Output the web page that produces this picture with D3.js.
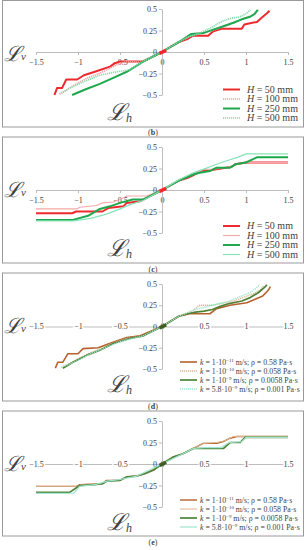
<!DOCTYPE html>
<html>
<head>
<meta charset="utf-8">
<script src="https://cdn.jsdelivr.net/npm/d3@7"></script>
<style>
  body { margin: 0; background: #fff; }
  svg { display: block; }
  text { font-family: "Liberation Serif", "Times New Roman", serif; fill: #404040; }
</style>
</head>
<body>
<svg width="306" height="550"></svg>
<script>
// tick labels
const xTicks = [-1.5, -1, -0.5, 0, 0.5, 1, 1.5];
const yTicks = [-0.5, -0.25, 0, 0.25, 0.5];

// legend values
const hValues = ['50', '100', '250', '500'];
const kMant = ['1', '1', '1', '5.8'];
const kExp = ['\u221211', '\u221210', '\u22129', '\u22129'];
const rhoValues = ['0.58', '0.058', '0.0058', '0.001'];

// (b) [Lh, Lv]
const bH50 = [[-1.28,-0.5],[-1.25,-0.42],[-1.19,-0.42],[-1.14,-0.32],[-1.01,-0.32],[-0.93,-0.27],[-0.8,-0.23],[-0.62,-0.17],[-0.56,-0.13],[-0.5,-0.11],[-0.22,-0.11],[-0.12,-0.06],[0,0],[0.1,0.06],[0.21,0.12],[0.3,0.15],[0.37,0.19],[0.55,0.19],[0.61,0.24],[0.71,0.27],[0.95,0.27],[0.98,0.32],[1.13,0.35],[1.2,0.41],[1.25,0.45],[1.28,0.48]];
const bH100 = [[-1.22,-0.49],[-1.12,-0.43],[-1.0,-0.36],[-0.88,-0.3],[-0.75,-0.25],[-0.62,-0.19],[-0.5,-0.13],[-0.4,-0.11],[-0.22,-0.1],[0,0],[0.21,0.12],[0.35,0.19],[0.5,0.22],[0.6,0.25],[0.75,0.3],[0.9,0.36],[1.0,0.4],[1.1,0.44],[1.15,0.49]];
const bH250 = [[-1.07,-0.5],[-0.9,-0.43],[-0.74,-0.37],[-0.58,-0.3],[-0.42,-0.23],[-0.22,-0.11],[0,0],[0.21,0.12],[0.35,0.21],[0.49,0.22],[0.61,0.26],[0.73,0.3],[0.85,0.34],[0.95,0.38],[1.05,0.41],[1.1,0.44],[1.14,0.49]];
const bH500 = [[-1.2,-0.48],[-1.08,-0.41],[-0.94,-0.35],[-0.74,-0.27],[-0.54,-0.23],[-0.4,-0.21],[-0.22,-0.11],[0,0],[0.2,0.12],[0.3,0.17],[0.45,0.22],[0.6,0.29],[0.7,0.35],[0.81,0.39],[0.93,0.41],[1.01,0.45],[1.05,0.49]];

// (c)
const cH50 = [[-1.5,-0.27],[-1.07,-0.27],[-1.02,-0.25],[-0.71,-0.25],[-0.64,-0.21],[-0.46,-0.19],[-0.42,-0.15],[-0.26,-0.13],[-0.2,-0.1],[0,0],[0.2,0.11],[0.3,0.14],[0.37,0.17],[0.45,0.22],[0.57,0.23],[0.65,0.24],[0.83,0.27],[0.87,0.3],[1.0,0.32],[1.5,0.32]];
const cH100 = [[-1.5,-0.22],[-1.01,-0.22],[-0.98,-0.2],[-0.78,-0.18],[-0.71,-0.15],[-0.58,-0.14],[-0.5,-0.11],[-0.42,-0.07],[-0.18,-0.07],[0,0],[0.2,0.11],[0.37,0.18],[0.5,0.24],[0.6,0.24],[0.8,0.27],[0.9,0.3],[1.0,0.32],[1.5,0.32]];
const cH250 = [[-1.5,-0.35],[-1.07,-0.35],[-0.88,-0.3],[-0.74,-0.22],[-0.62,-0.19],[-0.5,-0.15],[-0.35,-0.11],[-0.22,-0.11],[0,0],[0.2,0.11],[0.3,0.15],[0.37,0.18],[0.45,0.2],[0.57,0.22],[0.65,0.26],[0.81,0.26],[0.88,0.3],[1.0,0.32],[1.13,0.38],[1.5,0.38]];
const cH500 = [[-1.5,-0.36],[-1.05,-0.36],[-0.85,-0.33],[-0.66,-0.28],[-0.5,-0.22],[-0.38,-0.17],[-0.22,-0.12],[0,0],[0.2,0.12],[0.37,0.2],[0.49,0.24],[0.65,0.3],[0.77,0.34],[0.9,0.38],[1.0,0.42],[1.5,0.42]];

// (d)
const dK11 = [[-1.27,-0.49],[-1.24,-0.42],[-1.18,-0.42],[-1.12,-0.32],[-1.0,-0.32],[-0.94,-0.26],[-0.76,-0.25],[-0.6,-0.19],[-0.42,-0.13],[-0.26,-0.11],[0,0],[0.2,0.12],[0.33,0.15],[0.57,0.15],[0.65,0.21],[0.81,0.25],[1.01,0.28],[1.13,0.33],[1.2,0.36],[1.26,0.42],[1.29,0.47]];
const dK10 = [[-1.2,-0.48],[-1.05,-0.41],[-0.9,-0.33],[-0.75,-0.27],[-0.6,-0.2],[-0.42,-0.14],[-0.22,-0.11],[0,0],[0.2,0.12],[0.37,0.19],[0.45,0.25],[0.6,0.25],[0.7,0.27],[0.85,0.3],[0.96,0.34],[1.1,0.39],[1.17,0.43],[1.21,0.48]];
const dK9 = [[-1.18,-0.49],[-1.06,-0.42],[-0.9,-0.34],[-0.74,-0.28],[-0.58,-0.2],[-0.38,-0.14],[-0.22,-0.11],[0,0],[0.2,0.12],[0.3,0.15],[0.4,0.17],[0.5,0.18],[0.6,0.2],[0.7,0.24],[0.8,0.27],[0.95,0.3],[1.05,0.34],[1.15,0.4],[1.22,0.46],[1.25,0.49]];
const dK58 = [[-1.2,-0.48],[-1.0,-0.4],[-0.85,-0.32],[-0.7,-0.26],[-0.5,-0.18],[-0.35,-0.14],[-0.22,-0.11],[0,0],[0.2,0.12],[0.4,0.2],[0.6,0.25],[0.8,0.3],[0.95,0.36],[1.05,0.4],[1.12,0.45],[1.16,0.49]];

// (e)
const eK11 = [[-1.5,-0.26],[-1.01,-0.26],[-0.98,-0.24],[-0.71,-0.23],[-0.66,-0.19],[-0.5,-0.19],[-0.42,-0.15],[-0.3,-0.14],[-0.2,-0.11],[-0.1,-0.07],[0,0],[0.13,0.08],[0.25,0.12],[0.37,0.18],[0.49,0.24],[0.65,0.24],[0.73,0.26],[0.81,0.3],[0.89,0.32],[1.5,0.32]];
const eK10 = [[-1.5,-0.26],[-1.0,-0.26],[-0.97,-0.24],[-0.7,-0.23],[-0.65,-0.2],[-0.5,-0.19],[-0.42,-0.15],[-0.3,-0.14],[-0.2,-0.11],[0,0],[0.25,0.12],[0.37,0.18],[0.49,0.24],[0.65,0.25],[0.75,0.27],[0.85,0.32],[1.5,0.32]];
const eK9 = [[-1.5,-0.33],[-1.1,-0.33],[-1.01,-0.27],[-0.98,-0.25],[-0.8,-0.24],[-0.71,-0.23],[-0.66,-0.2],[-0.5,-0.19],[-0.42,-0.15],[-0.3,-0.14],[-0.2,-0.11],[-0.1,-0.07],[0,0],[0.13,0.08],[0.25,0.12],[0.37,0.18],[0.49,0.18],[0.73,0.18],[0.81,0.25],[0.93,0.25],[0.99,0.31],[1.5,0.31]];
const eK58 = [[-1.5,-0.34],[-1.05,-0.34],[-0.98,-0.26],[-0.8,-0.24],[-0.65,-0.2],[-0.5,-0.18],[-0.3,-0.14],[0,0],[0.25,0.12],[0.37,0.18],[0.5,0.19],[0.7,0.19],[0.8,0.25],[0.95,0.26],[1.0,0.31],[1.5,0.31]];

// short thick stroke at the origin
const originMark = [[-0.03,-0.015],[0.05,0.02]];

const svg = d3.select('svg');
const x = d3.scaleLinear().domain([-1.5, 1.5]).range([36, 288]);

function fmt(v) {
  return String(v).replace('-', '\u2212');
}

const hStyles = [
  { color: '#ee2a2f', w: 2 },
  { color: '#f3a0a4', w: 1.6, dash: '1.2,0.8' },
  { color: '#1ea84e', w: 2 },
  { color: '#7fdcaa', w: 1.6, dash: '1.2,0.8' }
];
const hStylesC = [
  { color: '#ee2a2f', w: 2 },
  { color: '#f6a8aa', w: 1.1 },
  { color: '#1ea84e', w: 2 },
  { color: '#86e2b8', w: 1.2 }
];
const kStyles = [
  { color: '#b5622e', w: 1.6 },
  { color: '#dcb48c', w: 1.4, dash: '1.2,0.8' },
  { color: '#4d843a', w: 1.7 },
  { color: '#9de6cf', w: 1.4, dash: '1.2,0.8' }
];
const kStylesE = [
  { color: '#b5622e', w: 1.4 },
  { color: '#dcb48c', w: 1 },
  { color: '#4d843a', w: 1.7 },
  { color: '#9de6cf', w: 1.2 }
];

const panels = [
  { name: 'b', frame: [0.5, 127], top: 9, bottom: 95, series: [bH50, bH100, bH250, bH500], styles: hStyles, legend: 'H', labelsBelow: true, mark: '#ee2a2f', caption: 135 },
  { name: 'c', frame: [137, 263], top: 147, bottom: 233, series: [cH50, cH100, cH250, cH500], styles: hStylesC, legend: 'H', labelsBelow: true, mark: '#ee2a2f', caption: 272 },
  { name: 'd', frame: [273, 401], top: 284, bottom: 369, series: [dK11, dK10, dK9, dK58], styles: kStyles, legend: 'k', labelsBelow: false, mark: '#3f5f22', caption: 409 },
  { name: 'e', frame: [411, 536], top: 421, bottom: 507, series: [eK11, eK10, eK9, eK58], styles: kStylesE, legend: 'k', labelsBelow: false, mark: '#3f5f22', caption: 545 }
];

function drawPanel(p) {
  const y = d3.scaleLinear().domain([-0.5, 0.5]).range([p.bottom, p.top]);
  const g = svg.append('g');
  const f = p.frame[0];

  g.append('rect')
    .attr('x', 2.5).attr('y', p.frame[0])
    .attr('width', 301).attr('height', p.frame[1] - p.frame[0])
    .attr('fill', 'none').attr('stroke', '#9a9a9a').attr('stroke-width', 1);

  // axes
  const xa = g.append('g')
    .attr('transform', `translate(0,${y(0)})`)
    .call(d3.axisBottom(x).tickValues(xTicks).tickSize(3).tickSizeOuter(0).tickFormat(fmt));
  const ya = g.append('g')
    .attr('transform', `translate(${x(0)},0)`)
    .call(d3.axisLeft(y).tickValues(yTicks).tickSize(3).tickSizeOuter(0).tickFormat(fmt));

  [xa, ya].forEach(a => {
    a.selectAll('path, line').attr('stroke', '#bdbdbd');
    a.selectAll('text').attr('font-size', 8).attr('fill', '#404040')
      .attr('font-family', '"Liberation Serif", serif');
  });
  ya.selectAll('text').attr('x', -5);
  if (p.labelsBelow) {
    xa.selectAll('text').attr('y', 7).attr('dy', '0.71em');
  } else {
    xa.selectAll('text').attr('y', 0).attr('dy', '0.35em')
      .attr('stroke', '#fff').attr('stroke-width', 3).attr('paint-order', 'stroke');
  }

  // curves
  const line = d3.line().x(d => x(d[0])).y(d => y(d[1]));
  p.series.forEach((s, i) => {
    const st = p.styles[i];
    g.append('path')
      .attr('d', line(s))
      .attr('fill', 'none')
      .attr('stroke', st.color)
      .attr('stroke-width', st.w)
      .attr('stroke-dasharray', st.dash || null)
      .attr('stroke-linejoin', 'round');
  });
  g.append('path')
    .attr('d', line(originMark))
    .attr('fill', 'none').attr('stroke', p.mark).attr('stroke-width', 3.5);

  // legend
  const rows = p.legend === 'H' ? [89, 98.5, 108, 117.5] : [89, 98, 107, 116];
  p.styles.forEach((st, i) => {
    const ry = f + rows[i];
    const lx0 = p.legend === 'H' ? 223 : 180;
    g.append('line')
      .attr('x1', lx0).attr('x2', lx0 + 17)
      .attr('y1', ry).attr('y2', ry)
      .attr('stroke', st.color).attr('stroke-width', st.w)
      .attr('stroke-dasharray', st.dash || null);
    if (p.legend === 'H') {
      const t = g.append('text').attr('x', 247).attr('y', ry + 3.4).attr('font-size', 10).attr('fill', '#303030');
      t.append('tspan').attr('font-style', 'italic').text('H');
      t.append('tspan').text(` = ${hValues[i]} mm`);
    } else {
      const t = g.append('text').attr('x', 200).attr('y', ry + 2.6).attr('font-size', 7.8).attr('fill', '#303030');
      t.append('tspan').attr('font-style', 'italic').text('k');
      t.append('tspan').text(` = ${kMant[i]}\u00b710`);
      t.append('tspan').attr('font-size', 5).attr('dy', -2.6).text(kExp[i]);
      t.append('tspan').attr('dy', 2.6).text(` m/s; \u03c1 = ${rhoValues[i]} Pa\u00b7s`);
    }
  });

  // axis titles
  const tv = g.append('text').attr('x', 4).attr('y', f + 60).attr('fill', '#222');
  tv.append('tspan').attr('font-family', '"DejaVu Serif", serif').attr('font-style', 'italic').attr('font-size', 21).text('\u2112');
  tv.append('tspan').attr('font-style', 'italic').attr('font-size', 11).attr('dy', -1).text('v');
  const th = g.append('text').attr('x', 107).attr('y', f + 119).attr('fill', '#222');
  th.append('tspan').attr('font-family', '"DejaVu Serif", serif').attr('font-style', 'italic').attr('font-size', 23).text('\u2112');
  th.append('tspan').attr('font-style', 'italic').attr('font-size', 12).attr('dy', 2).text('h');

  // caption
  const c = g.append('text').attr('x', 153).attr('y', p.caption).attr('text-anchor', 'middle')
    .attr('font-size', 8).attr('fill', '#222');
  c.append('tspan').text('(');
  c.append('tspan').attr('font-weight', 'bold').text(p.name);
  c.append('tspan').text(')');
}

panels.forEach(drawPanel);
</script>
</body>
</html>
